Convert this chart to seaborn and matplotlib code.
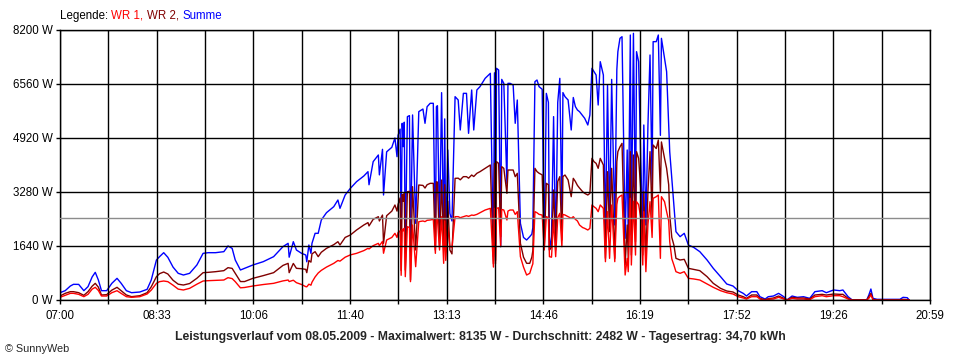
"""SunnyWeb daily power curve (Leistungsverlauf) for 08.05.2009."""

import matplotlib
matplotlib.use("Agg")
import matplotlib.pyplot as plt
import numpy as np
import pandas as pd
import seaborn as sns

# Sample times (HH:MM) and power readings in W
TIMES = [
    "07:00", "07:05", "07:10", "07:13", "07:18", "07:23", "07:27", "07:31", "07:34", "07:37",
    "07:40", "07:45", "07:50", "07:55", "07:59", "08:04", "08:09", "08:17", "08:24", "08:28",
    "08:33", "08:36", "08:40", "08:44", "08:49", "08:54", "08:59", "09:05", "09:12", "09:18",
    "09:23", "09:30", "09:38", "09:42", "09:46", "09:49", "09:54", "09:58", "10:06", "10:16",
    "10:26", "10:35", "10:40", "10:41", "10:45", "10:48", "10:53", "10:57", "10:58", "11:00",
    "11:02", "11:03", "11:06", "11:09", "11:12", "11:17", "11:24", "11:28", "11:30", "11:35",
    "11:40", "11:46", "11:53", "11:57", "11:58", "12:02", "12:07", "12:08", "12:11", "12:12",
    "12:15", "12:20", "12:23", "12:25", "12:26", "12:28", "12:29", "12:30", "12:31", "12:32",
    "12:33", "12:35", "12:37", "12:38", "12:40", "12:43", "12:46", "12:50", "12:52", "12:54",
    "12:57", "13:00", "13:02", "13:03", "13:04", "13:06", "13:08", "13:10", "13:11", "13:12",
    "13:14", "13:16", "13:18", "13:21", "13:24", "13:26", "13:29", "13:32", "13:34", "13:37",
    "13:39", "13:42", "13:45", "13:50", "13:55", "13:58", "13:59", "14:00", "14:01", "14:03",
    "14:05", "14:06", "14:08", "14:11", "14:12", "14:14", "14:17", "14:19", "14:21", "14:24",
    "14:27", "14:30", "14:33", "14:35", "14:36", "14:38", "14:40", "14:42", "14:45", "14:47",
    "14:49", "14:51", "14:52", "14:54", "14:56", "14:58", "15:00", "15:02", "15:04", "15:05",
    "15:07", "15:10", "15:13", "15:15", "15:17", "15:19", "15:21", "15:24", "15:26", "15:29",
    "15:31", "15:33", "15:35", "15:37", "15:39", "15:41", "15:44", "15:46", "15:48", "15:50",
    "15:52", "15:55", "15:57", "15:58", "16:00", "16:02", "16:05", "16:07", "16:08", "16:10",
    "16:11", "16:13", "16:15", "16:16", "16:18", "16:20", "16:22", "16:23", "16:25", "16:27",
    "16:29", "16:31", "16:32", "16:35", "16:37", "16:39", "16:40", "16:43", "16:45", "16:47",
    "16:48", "16:50", "16:52", "16:54", "16:58", "17:02", "17:06", "17:11", "17:17", "17:24",
    "17:30", "17:37", "17:43", "17:49", "17:54", "17:59", "18:02", "18:07", "18:12", "18:15",
    "18:20", "18:23", "18:28", "18:33", "18:38", "18:41", "18:46", "18:51", "18:57", "19:03",
    "19:08", "19:15", "19:19", "19:26", "19:32", "19:35", "19:40", "19:44", "19:58", "20:00",
    "20:02", "20:04", "20:08", "20:30", "20:33", "20:37", "20:39",
]
WR1 = [
    81, 142, 202, 202, 172, 101, 172, 330, 385, 290,
    121, 121, 222, 283, 200, 101, 81, 101, 182, 300,
    506, 557, 577, 557, 450, 330, 304, 354, 480, 577,
    587, 597, 607, 678, 650, 557, 370, 380, 425, 470,
    506, 580, 607, 560, 600, 526, 470, 405, 400, 480,
    450, 540, 700, 820, 900, 1000, 1113, 1200, 1180, 1300,
    1370, 1417, 1500, 1569, 1550, 1650, 1721, 1650, 1780, 1420,
    1822, 1900, 2025, 1900, 2050, 2100, 750, 2150, 2100, 2180,
    709, 2227, 2200, 557, 2278, 1012, 2379, 2400, 2380, 2420,
    2430, 2450, 1417, 2480, 2460, 1518, 2531, 1114, 2400, 1200,
    2200, 1620, 1600, 2531, 2531, 2500, 2531, 2560, 2540, 2580,
    2570, 2600, 2650, 2733, 2784, 1000, 2784, 1100, 2784, 2800,
    1620, 2750, 2733, 2430, 2700, 2733, 2733, 2600, 2683, 1316,
    1000, 759, 810, 1012, 1100, 2683, 2650, 2600, 2580, 1518,
    2531, 2500, 1316, 1300, 2430, 1316, 2500, 2632, 1620, 2600,
    2581, 2531, 2480, 2530, 2450, 2400, 2278, 2200, 2176, 2126,
    2176, 2885, 2830, 2784, 2683, 2885, 2784, 1164, 2683, 1265,
    2885, 1164, 2900, 3088, 3150, 3189, 759, 1265, 860, 3088,
    1063, 3000, 1366, 2986, 2900, 2500, 1063, 2683, 860, 2300,
    2986, 1900, 3088, 3138, 3189, 1265, 3138, 2986, 2683, 2400,
    1771, 1250, 1063, 860, 810, 860, 658, 640, 607, 486,
    385, 283, 222, 182, 101, 60, 30, 101, 101, 30,
    0, 20, 30, 81, 30, 0, 50, 30, 30, 10,
    101, 131, 100, 131, 131, 101, 30, 0, 0, 50,
    152, 10, 0, 0, 10, 0, 0,
]
WR2 = [
    121, 202, 253, 253, 222, 142, 253, 420, 506, 390,
    152, 162, 300, 385, 280, 152, 101, 130, 222, 400,
    709, 800, 850, 790, 600, 480, 455, 500, 660, 830,
    840, 860, 891, 982, 960, 810, 560, 560, 658, 740,
    830, 1050, 1113, 830, 1110, 962, 950, 930, 830, 1200,
    1150, 1400, 1468, 1316, 1450, 1569, 1680, 1771, 1670, 1900,
    1974, 2126, 2278, 2350, 2250, 2450, 2530, 2400, 2580, 1720,
    2560, 2700, 2885, 2700, 2900, 3100, 900, 3200, 3000, 3240,
    911, 3290, 3300, 607, 3442, 1518, 3493, 3480, 3400, 3500,
    3543, 3543, 1518, 3590, 3580, 1620, 3644, 1518, 3500, 1620,
    3000, 1518, 1400, 3695, 3700, 3650, 3746, 3746, 3700, 3796,
    3750, 3847, 3897, 3999, 4100, 1100, 4150, 1200, 4201, 4150,
    1923, 4050, 3999, 3239, 3948, 3948, 3948, 3746, 3847, 1721,
    1300, 1114, 1114, 1300, 1500, 3999, 3900, 3850, 3800, 1620,
    3543, 3500, 1518, 1600, 3341, 1822, 3600, 3746, 1822, 3750,
    3796, 3644, 3138, 3695, 3600, 3480, 3400, 3290, 3239, 3189,
    3239, 4302, 4200, 4150, 3999, 4302, 4100, 1265, 3897, 2075,
    3999, 1265, 4200, 4505, 4650, 4758, 1063, 2278, 1265, 4505,
    1366, 4404, 1771, 4505, 4302, 3400, 1366, 3290, 1265, 3290,
    4505, 2500, 4707, 4600, 4859, 3290, 4800, 4302, 3999, 3500,
    2581, 1900, 1670, 1265, 1215, 1235, 962, 930, 891, 709,
    506, 354, 273, 243, 152, 100, 50, 152, 152, 50,
    10, 40, 60, 121, 50, 0, 81, 60, 60, 30,
    152, 172, 150, 182, 172, 172, 50, 0, 0, 100,
    202, 20, 0, 0, 20, 10, 0,
]
SUMME = [
    222, 283, 425, 476, 474, 283, 405, 700, 840, 607,
    283, 283, 506, 658, 506, 283, 222, 243, 324, 607,
    1215, 1316, 1437, 1296, 1000, 810, 759, 810, 1063, 1417,
    1437, 1437, 1468, 1640, 1569, 1215, 911, 962, 1063, 1164,
    1316, 1620, 1721, 1300, 1771, 1518, 1417, 1367, 1160, 1670,
    1417, 1721, 2025, 2025, 2430, 2652, 2834, 3037, 2784, 3189,
    3391, 3594, 3766, 3897, 3500, 4201, 4404, 3800, 4576, 3189,
    4500, 4637, 4920, 4353, 5000, 5190, 2000, 5366, 4657, 5400,
    1427, 5568, 5600, 1478, 5620, 2328, 5720, 5800, 5366, 5870,
    5974, 5974, 1620, 5870, 5900, 2126, 6297, 1721, 5500, 1720,
    4556, 2632, 2400, 6175, 6074, 5163, 6276, 6276, 5062, 6378,
    5163, 6378, 6479, 6732, 6884, 1320, 6900, 1700, 7036, 6985,
    1620, 6700, 6580, 3543, 6580, 6580, 6530, 5366, 6074, 2328,
    1900, 1822, 1923, 2000, 2200, 6631, 6681, 6479, 6400, 1620,
    6276, 6000, 1518, 1923, 5569, 1518, 6000, 6732, 2531, 6300,
    6175, 6074, 5163, 6150, 5874, 5770, 5720, 5600, 5518, 5315,
    5619, 7036, 6934, 6833, 5922, 7238, 6833, 1873, 6530, 2278,
    6700, 2278, 7000, 7542, 7947, 7997, 1873, 4556, 1873, 8048,
    1974, 8099, 2278, 7542, 7238, 4302, 2075, 5315, 2278, 5315,
    7441, 3493, 7846, 7846, 8048, 5000, 7947, 7340, 6934, 5315,
    4505, 3695, 2885, 2075, 1923, 2025, 1670, 1600, 1468, 1215,
    962, 709, 486, 425, 283, 200, 121, 253, 253, 100,
    30, 100, 121, 202, 100, 0, 121, 81, 100, 50,
    253, 283, 222, 304, 283, 304, 100, 0, 0, 150,
    334, 50, 20, 20, 81, 70, 0,
]

SERIES = ["Summe", "WR 2", "WR 1"]  # drawing order, WR 1 ends up on top
PALETTE = {"WR 1": "#ff0000", "WR 2": "#800000", "Summe": "#0000ff"}
LEGEND_PARTS = [("Legende: ", "black"), ("WR 1, ", PALETTE["WR 1"]),
                ("WR 2, ", PALETTE["WR 2"]), ("Summe", PALETTE["Summe"])]

AVERAGE_W = 2482
Y_TICKS = [0, 1640, 3280, 4920, 6560, 8200]
X_TICK_LABELS = ["07:00", "08:33", "10:06", "11:40", "13:13",
                 "14:46", "16:19", "17:52", "19:26", "20:59"]
TITLE = ("Leistungsverlauf vom 08.05.2009 - Maximalwert: 8135 W - "
         "Durchschnitt: 2482 W - Tagesertrag: 34,70 kWh")


def to_minutes(hhmm: str) -> int:
    h, m = hhmm.split(":")
    return int(h) * 60 + int(m)


def main():
    assert len(TIMES) == len(WR1) == len(WR2) == len(SUMME)

    df = pd.DataFrame({
        "minute": [to_minutes(t) for t in TIMES],
        "WR 1": WR1,
        "WR 2": WR2,
        "Summe": SUMME,
    }).melt(id_vars="minute", var_name="series", value_name="watt")

    sns.set_theme(style="white")
    plt.rcParams["font.family"] = ["Liberation Sans", "DejaVu Sans"]

    fig = plt.figure(figsize=(9.6, 3.6), dpi=100)
    ax = fig.add_axes([60 / 960, 60 / 360, 870 / 960, 270 / 360])

    sns.lineplot(data=df, x="minute", y="watt", hue="series", hue_order=SERIES,
                 palette=PALETTE, estimator=None, linewidth=1.0, legend=False, ax=ax)

    # average line
    ax.axhline(AVERAGE_W, color="#8c8c8c", linewidth=1.0, zorder=2.6)

    x0, x1 = to_minutes(X_TICK_LABELS[0]), to_minutes(X_TICK_LABELS[-1])
    major = np.linspace(x0, x1, len(X_TICK_LABELS))
    minor = np.linspace(x0, x1, 2 * len(X_TICK_LABELS) - 1)
    ax.set_xlim(x0, x1)
    ax.set_ylim(Y_TICKS[0], Y_TICKS[-1])
    ax.set_xticks(major)
    ax.set_xticks(minor, minor=True)
    ax.set_xticklabels(X_TICK_LABELS)
    ax.set_yticks(Y_TICKS)
    ax.set_yticklabels([f"{v} W" for v in Y_TICKS])
    ax.set_xlabel("")
    ax.set_ylabel("")

    ax.set_axisbelow(False)
    ax.grid(True, which="both", color="black", linewidth=1.0)
    ax.tick_params(which="both", bottom=True, left=True, direction="out",
                   length=3, width=1.0, color="black", labelsize=8.3, colors="black")
    ax.tick_params(axis="x", pad=4)
    ax.tick_params(axis="y", pad=2)
    for spine in ax.spines.values():
        spine.set_color("black")
        spine.set_linewidth(1.0)

    # coloured legend line at the top, pieces placed one after another
    renderer = fig.canvas.get_renderer()
    x = 60 / 960
    for text, color in LEGEND_PARTS:
        t = fig.text(x, 1 - 16 / 360, text, fontsize=8.3, color=color, va="center")
        bb = t.get_window_extent(renderer=renderer)
        x += bb.width / fig.bbox.width

    fig.text(0.5, 1 - 337 / 360, TITLE, fontsize=8.8, fontweight="bold", ha="center", va="center")
    fig.text(5 / 960, 1 - 349 / 360, "\u00a9 SunnyWeb", fontsize=7.8, ha="left", va="center")

    fig.savefig("out.png", dpi=100, facecolor="white")
    plt.close(fig)


if __name__ == "__main__":
    main()
